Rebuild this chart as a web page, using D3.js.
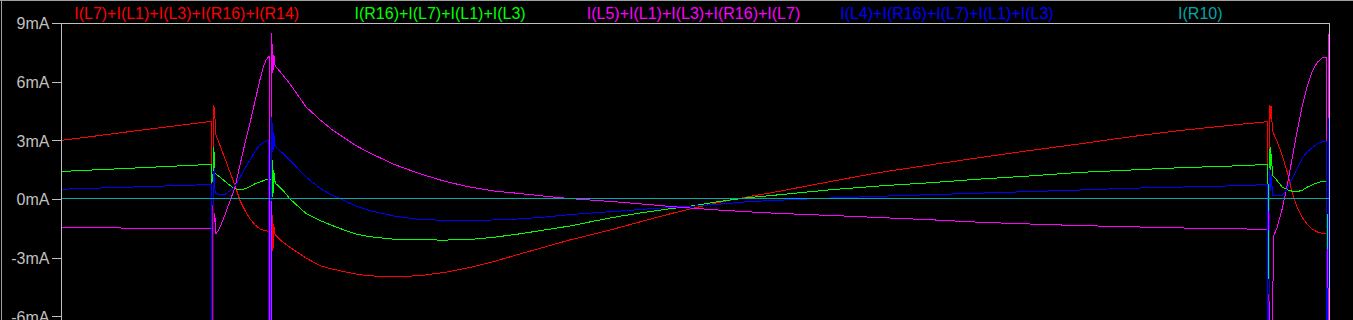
<!DOCTYPE html>
<html>
<head>
<meta charset="utf-8">
<script src="https://cdnjs.cloudflare.com/ajax/libs/d3/7.8.5/d3.min.js"></script>
<style>
  body { margin: 0; background: #000; overflow: hidden; }
  svg { display: block; }
</style>
</head>
<body>
<svg id="plot" width="1353" height="320"></svg>
<script>
// trace labels, same order as the series below
var legendLabels = [
  'I(L7)+I(L1)+I(L3)+I(R16)+I(R14)',
  'I(R16)+I(L7)+I(L1)+I(L3)',
  'I(L5)+I(L1)+I(L3)+I(R16)+I(L7)',
  'I(L4)+I(R16)+I(L7)+I(L1)+I(L3)',
  'I(R10)'
];
var yTicks = [-6, -3, 0, 3, 6, 9];

// [time ms, current mA]
var redPts = [
  [0, 3.00], [0.833, 3.58], [1.412, 3.97],
  [1.419, -9], [1.424, -9], [1.434, 4.80], [1.438, 4.0], [1.442, 4.70], [1.459, 3.26],
  [1.496, 2.74], [1.544, 2.06], [1.591, 1.37], [1.639, 0.69], [1.686, -0.08], [1.733, -0.59],
  [1.781, -1.02], [1.828, -1.32], [1.875, -1.53], [1.923, -1.62], [1.960, -1.66], [1.984, -1.68],
  [1.987, -0.42], [1.991, -2.64], [1.995, -0.8], [1.999, -2.5], [2.004, -1.3], [2.017, -1.79],
  [2.027, -1.87], [2.093, -2.21], [2.160, -2.47], [2.311, -3.02], [2.444, -3.41], [2.557, -3.58],
  [2.680, -3.72], [2.794, -3.85], [2.917, -3.93], [3.154, -3.98], [3.391, -3.92], [3.628, -3.75],
  [3.864, -3.50], [4.101, -3.18], [4.338, -2.81], [4.575, -2.45], [4.812, -2.09], [5.048, -1.78],
  [5.285, -1.45], [5.522, -1.10], [5.759, -0.76], [5.995, -0.45], [6.232, -0.16], [6.516, 0.13],
  [6.800, 0.40], [7.274, 0.89], [7.748, 1.36], [8.221, 1.74], [8.695, 2.12], [9.168, 2.48],
  [9.642, 2.82], [10.116, 3.18], [10.589, 3.50], [11.157, 3.82], [11.414, 3.95],
  [11.420, -9], [11.428, -9], [11.441, 4.80], [11.446, 4.1], [11.451, 4.75], [11.466, 3.46],
  [11.508, 2.94], [11.556, 2.25], [11.604, 1.38], [11.651, 0.35], [11.698, -0.43], [11.746, -0.95],
  [11.795, -1.29], [11.843, -1.55], [11.891, -1.69], [11.938, -1.76], [11.986, -1.80],
  [11.994, -0.52], [12.0, -0.95]
];

var greenPts = [
  [0, 1.41], [0.833, 1.62], [1.412, 1.77],
  [1.419, 0.8], [1.430, 1.2], [1.436, 2.66], [1.440, 1.4], [1.444, 2.4], [1.449, 1.31],
  [1.496, 1.12], [1.544, 0.90], [1.591, 0.69], [1.639, 0.52], [1.686, 0.47], [1.733, 0.52],
  [1.781, 0.64], [1.828, 0.78], [1.875, 0.86], [1.923, 0.98], [1.960, 1.00], [1.984, 1.02],
  [1.987, 2.32], [1.991, 0.09], [1.995, 2.0], [1.999, 0.3], [2.004, 1.5], [2.017, 0.90],
  [2.027, 0.78], [2.093, 0.44], [2.160, 0.0], [2.311, -0.74], [2.444, -1.10], [2.557, -1.35],
  [2.680, -1.60], [2.794, -1.80], [2.917, -1.93], [3.154, -2.06], [3.391, -2.09], [3.628, -2.10],
  [3.864, -2.07], [4.101, -1.95], [4.338, -1.78], [4.575, -1.58], [4.812, -1.38], [5.048, -1.12],
  [5.285, -0.88], [5.522, -0.68], [5.759, -0.50], [5.995, -0.33], [6.232, -0.12], [6.516, 0.08],
  [6.800, 0.22], [7.274, 0.47], [7.748, 0.67], [8.221, 0.83], [8.695, 1.02], [9.168, 1.18],
  [9.642, 1.36], [10.116, 1.48], [10.589, 1.60], [11.157, 1.70], [11.414, 1.77],
  [11.424, -4.1], [11.432, 0.8], [11.442, 2.66], [11.448, 1.5], [11.453, 2.3], [11.466, 1.21],
  [11.508, 0.95], [11.556, 0.61], [11.604, 0.47], [11.651, 0.40], [11.698, 0.38], [11.746, 0.44],
  [11.795, 0.61], [11.843, 0.73], [11.891, 0.83], [11.938, 0.90], [11.979, 0.90],
  [11.986, -12], [11.992, 2.25], [12.0, 1.73]
];

var magentaPts = [
  [0, -1.45], [0.833, -1.50], [1.412, -1.53], [1.430, -1.53],
  [1.436, -0.59], [1.441, -1.2], [1.446, -0.7], [1.459, -1.79],
  [1.496, -1.45], [1.544, -0.80], [1.591, -0.10], [1.639, 0.60], [1.686, 1.75], [1.733, 2.85],
  [1.781, 3.90], [1.828, 5.00], [1.875, 6.10], [1.904, 6.70], [1.932, 7.10], [1.955, 7.27], [1.961, 7.27],
  [1.965, -12], [1.983, -12], [1.988, 8.47], [1.992, 6.42], [1.997, 7.6], [2.003, 6.6], [2.008, 7.3], [2.017, 6.85],
  [2.027, 6.76], [2.093, 6.33], [2.160, 5.88], [2.235, 5.30], [2.311, 4.71], [2.444, 4.05], [2.557, 3.55],
  [2.680, 3.10], [2.794, 2.70], [2.917, 2.35], [3.154, 1.75], [3.391, 1.29], [3.628, 0.90], [3.864, 0.61],
  [4.101, 0.40], [4.338, 0.28], [4.575, 0.14], [4.812, 0.02], [5.048, -0.07], [5.285, -0.16],
  [5.522, -0.27], [5.759, -0.38], [5.995, -0.48], [6.232, -0.57], [6.516, -0.66], [6.800, -0.74],
  [7.274, -0.84], [7.748, -0.95], [8.221, -1.06], [8.695, -1.19], [9.168, -1.28], [9.642, -1.36],
  [10.116, -1.42], [10.589, -1.48], [11.157, -1.53], [11.424, -1.55],
  [11.432, -0.6], [11.440, -12], [11.452, -12], [11.475, -1.90],
  [11.508, -1.46], [11.556, -0.52], [11.604, 0.69], [11.651, 2.08], [11.698, 3.46], [11.746, 4.75],
  [11.795, 5.78], [11.843, 6.56], [11.891, 7.00], [11.938, 7.22], [11.974, 7.22],
  [11.979, -4.7], [11.988, -12], [11.994, 8.46], [12.0, -12]
];

var bluePts = [
  [0, 0.50], [0.833, 0.64], [1.412, 0.74],
  [1.415, -12], [1.429, -12], [1.432, 1.0], [1.443, 1.6], [1.449, 0.45], [1.459, 0.27],
  [1.496, 0.23], [1.544, 0.24], [1.591, 0.42], [1.639, 0.66], [1.686, 1.10], [1.733, 1.58],
  [1.781, 2.00], [1.828, 2.45], [1.875, 2.76], [1.923, 2.95], [1.955, 3.00],
  [1.962, -12], [1.976, -12], [1.981, 4.2], [1.987, 2.4], [1.992, 3.9], [1.998, 2.4], [2.004, 3.4], [2.017, 2.74],
  [2.027, 2.66], [2.093, 2.32], [2.160, 1.97], [2.235, 1.55], [2.311, 1.12], [2.444, 0.55], [2.557, 0.20],
  [2.680, -0.10], [2.794, -0.38], [2.917, -0.60], [3.154, -0.88], [3.391, -1.05], [3.628, -1.09],
  [3.864, -1.10], [4.101, -1.07], [4.338, -1.02], [4.575, -0.92], [4.812, -0.80], [5.048, -0.70],
  [5.285, -0.62], [5.522, -0.52], [5.759, -0.43], [5.995, -0.36], [6.232, -0.26], [6.516, -0.13],
  [6.800, -0.06], [7.274, 0.05], [7.748, 0.14], [8.221, 0.22], [8.695, 0.30], [9.168, 0.38],
  [9.642, 0.46], [10.116, 0.55], [10.589, 0.61], [11.157, 0.68], [11.413, 0.74],
  [11.418, -12], [11.427, -12], [11.437, 1.6], [11.446, 0.4], [11.452, 1.3], [11.466, 0.18],
  [11.508, 0.16], [11.556, 0.18], [11.604, 0.52], [11.651, 1.04], [11.698, 1.56], [11.746, 2.08],
  [11.795, 2.42], [11.843, 2.63], [11.891, 2.82], [11.938, 2.94], [11.972, 2.94],
  [11.978, -12], [11.988, -12], [11.994, 4.15], [12.0, 3.63]
];

var cyanPts = [[0, 0], [12, 0]];

var seriesColors = ['#ff0000', '#00ff00', '#ff00ff', '#0000ff', '#00a8a8'];
var grey = '#c0c0c0';
var font = '"Liberation Sans", Arial, sans-serif';

var svg = d3.select('#plot'),
  width = +svg.attr('width'),
  height = +svg.attr('height');

svg
  .append('rect')
  .attr('width', width)
  .attr('height', height)
  .attr('fill', '#000');

var x = d3
    .scaleLinear()
    .domain([0, 12])
    .range([62, 1329]),
  y = d3
    .scaleLinear()
    .domain([-6, 9])
    .range([316.33, 23]);

// window edge
svg
  .append('path')
  .attr('d', 'M0,0.5H' + width + 'M1.5,0V' + height)
  .attr('stroke', '#a0a0a0')
  .attr('fill', 'none')
  .attr('shape-rendering', 'crispEdges');

// plot frame
var yBottom = y(-9);
svg
  .append('path')
  .attr(
    'd',
    'M' + (x(0) - 0.5) + ',' + yBottom + 'V' + (y(9) + 0.5) + 'H' + (x(12) + 0.5) + 'V' + yBottom
  )
  .attr('stroke', grey)
  .attr('fill', 'none')
  .attr('shape-rendering', 'crispEdges');

var gy = svg
  .append('g')
  .attr('transform', 'translate(' + (x(0) - 0.5) + ',0)')
  .call(
    d3
      .axisLeft(y)
      .tickValues(yTicks)
      .tickFormat(function(d) {
        return d + 'mA';
      })
      .tickSize(10)
      .tickPadding(2)
  );
gy
  .attr('font-family', font)
  .attr('font-size', 16);
gy.select('.domain').remove();
gy
  .selectAll('line')
  .attr('stroke', grey)
  .attr('shape-rendering', 'crispEdges');
gy
  .selectAll('text')
  .attr('fill', grey)
  .attr('dy', '0.37em');

svg
  .append('clipPath')
  .attr('id', 'clip')
  .append('rect')
  .attr('x', x(0) - 1)
  .attr('y', y(9) + 1)
  .attr('width', x(12) - x(0) + 2)
  .attr('height', yBottom - y(9));

var line = d3
  .line()
  .x(function(d) {
    return x(d[0]);
  })
  .y(function(d) {
    return y(d[1]);
  });

var series = [redPts, greenPts, magentaPts, bluePts, cyanPts];

svg
  .append('g')
  .attr('clip-path', 'url(#clip)')
  .selectAll('path')
  .data(series)
  .enter()
  .append('path')
  .attr('d', line)
  .attr('fill', 'none')
  .attr('stroke', function(d, i) {
    return seriesColors[i];
  })
  .attr('stroke-width', 1)
  .attr('shape-rendering', 'crispEdges');

// legend across the top
var lx = d3
  .scaleBand()
  .domain(legendLabels)
  .range([60, 1327]);

svg
  .append('g')
  .selectAll('text')
  .data(legendLabels)
  .enter()
  .append('text')
  .attr('x', function(d) {
    return lx(d) + lx.bandwidth() / 2;
  })
  .attr('y', 18.5)
  .attr('text-anchor', 'middle')
  .attr('font-family', font)
  .attr('font-size', 16)
  .attr('fill', function(d, i) {
    return seriesColors[i];
  })
  .text(function(d) {
    return d;
  });
</script>
</body>
</html>
